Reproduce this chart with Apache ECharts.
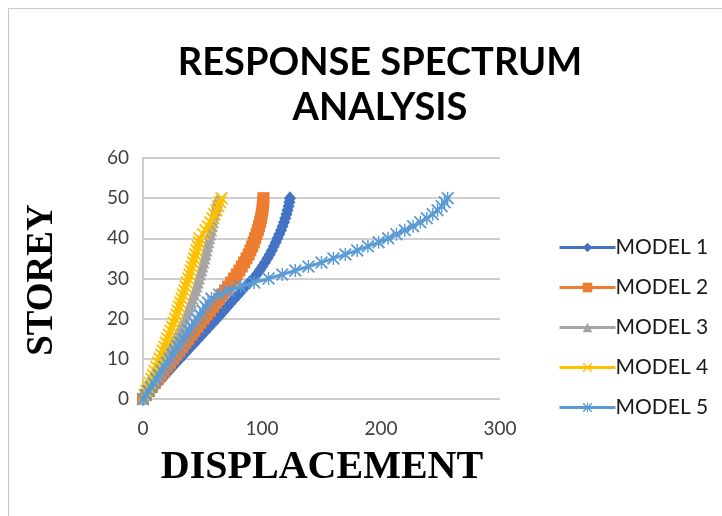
<!DOCTYPE html>
<html>
<head>
<meta charset="utf-8">
<script src="https://cdn.jsdelivr.net/npm/echarts@6/dist/echarts.min.js"></script>
<style>
html,body{margin:0;padding:0;background:#fff;}
#chart{width:722px;height:516px;}
</style>
</head>
<body>
<div id="chart"></div>
<script>
// ---- data ----
var storeys = [0,1,2,3,4,5,6,7,8,9,10,11,12,13,14,15,16,17,18,19,20,21,22,23,24,25,26,27,28,29,30,31,32,33,34,35,36,37,38,39,40,41,42,43,44,45,46,47,48,49,50];
var model1 = [0,3.1,6.2,9.3,12.4,15.5,18.6,21.7,24.8,27.9,31,34.1,37.2,40.3,43.4,46.5,49.6,52.7,55.8,58.9,62,65,68,71,74,77,80,83,86,89.5,93,95.5,98,100.3,102.5,104.5,106.5,108.3,110,111.6,113,114.5,116,117.3,118.5,119.6,120.6,121.5,122.3,123,123.5];
var model2 = [0,2.5,5,7.5,10,12.7,15.3,17.8,20.3,22.8,25.5,28,30.5,33,35.5,38,40.6,43.2,45.8,48.4,51,53.6,56.2,58.8,61.4,64,66.5,69,71.5,74,76.5,78.8,81,83,85,87,88.8,90.3,91.7,93,94.2,95.4,96.5,97.5,98.4,99.2,99.8,100.3,100.7,101,101.2];
var model3 = [0,1.8,3.6,5.4,7.2,9,10.8,12.6,14.4,16.2,18,19.7,21.4,23.1,24.8,26.5,28.2,29.9,31.6,33.3,35,36.4,37.8,39.1,40.4,41.6,42.8,44,45,46,47,48,49,49.9,50.8,51.7,52.5,53.3,54.1,54.9,55.7,56.5,57.3,58,58.7,59.4,60.1,60.8,61.5,62.2,63];
var model4 = [0,1.4,2.8,4.2,5.6,7,8.4,9.8,11.2,12.6,14,15.3,16.6,17.9,19.2,20.5,21.8,23.1,24.4,25.7,27,28.1,29.2,30.3,31.4,32.5,33.6,34.7,35.8,36.9,38,39,40,41,42,43,44,45,46,47,47.5,50.5,52.5,54.5,56.5,58.3,60,61.7,63.3,64.8,66];
var model5 = [0,2.2,4.4,6.6,8.8,11,13.3,15.6,17.9,20.2,22.5,24.8,27.1,29.4,31.7,34,36.3,38.6,40.9,43.2,45.5,47.8,50.1,52.4,54.7,57.5,64,72,82,93.5,105.5,117,128,139,150,160,170,180,189,198,206,213,220,227,233,238.5,243.5,247.5,251,253.5,256];
var seriesNames = ['MODEL 1','MODEL 2','MODEL 3','MODEL 4','MODEL 5'];
var xTicks = [0,100,200,300];
var yTicks = [0,10,20,30,40,50,60];

var XPATH = 'path://M0,1 L1,0 L5,4 L9,0 L10,1 L6,5 L10,9 L9,10 L5,6 L1,10 L0,9 L4,5 Z';
var STARPATH = 'path://M0,1 L1,0 L5,4 L9,0 L10,1 L6,5 L10,9 L9,10 L5,6 L1,10 L0,9 L4,5 Z M4.45,0 L5.55,0 L5.55,10 L4.45,10 Z';

function pairs(vals){ return vals.map(function(v,i){ return [v, storeys[i]]; }); }

var colors = ['#4472C4','#ED7D31','#A5A5A5','#FFC000','#5B9BD5'];
var symbols = ['diamond','rect','triangle',XPATH,STARPATH];
var sizes = [[12,14],12,12,13,13];
var allData = [model1, model2, model3, model4, model5];

var series = allData.map(function(d, k){
  return {
    name: seriesNames[k],
    type: 'line',
    data: pairs(d),
    symbol: symbols[k],
    symbolSize: sizes[k],
    showAllSymbol: true,
    smooth: 0.2,
    lineStyle: {color: colors[k], width: 3},
    itemStyle: {color: colors[k]},
    emphasis: {disabled: true},
    z: 2 + k
  };
});

var chart = echarts.init(document.getElementById('chart'), null, {renderer:'canvas'});
chart.setOption({
  animation: false,
  backgroundColor: '#fff',
  grid: {left: 143, right: 222, top: 158, bottom: 117},
  xAxis: {
    type: 'value', min: 0, max: 300, interval: 100,
    axisLine: {show: false},
    axisTick: {show: false},
    splitLine: {show: false},
    axisLabel: {fontSize: 19, color: '#404040', fontFamily: 'Lato', margin: 20}
  },
  yAxis: {
    type: 'value', min: 0, max: 60, interval: 10,
    axisLine: {show: true, lineStyle: {color: '#BFBFBF', width: 1.5}},
    axisTick: {show: false},
    splitLine: {show: true, lineStyle: {color: '#BFBFBF', width: 1.5}},
    axisLabel: {fontSize: 19, color: '#404040', fontFamily: 'Lato', margin: 14}
  },
  legend: {
    orient: 'vertical',
    left: 553, top: 232,
    itemWidth: 56, itemHeight: 12,
    itemGap: 19,
    lineStyle: {width: 3},
    textStyle: {fontSize: 21, color: '#1a1a1a', fontFamily: 'Lato', padding: [0,0,0,-5]},
    data: seriesNames
  },
  graphic: [
    {type:'rect', shape:{x:8.5, y:8.5, width:800, height:600}, style:{fill:'none', stroke:'#C8C8C8', lineWidth:1}, z:-1},
    {type:'text', x:380, y:40, style:{text:'RESPONSE SPECTRUM\nANALYSIS', textAlign:'center', fontSize:38, fontWeight:'bold', fontFamily:'Lato', lineHeight:45, fill:'#000'}},
    {type:'text', x:42, y:280, rotation: Math.PI/2, style:{text:'STOREY', textAlign:'center', textVerticalAlign:'middle', fontSize:37, fontWeight:'bold', fontFamily:'Liberation Serif', fill:'#000'}},
    {type:'text', x:322, y:468, style:{text:'DISPLACEMENT', textAlign:'center', textVerticalAlign:'middle', fontSize:40, fontWeight:'bold', fontFamily:'Liberation Serif', fill:'#000'}}
  ],
  series: series
});
</script>
</body>
</html>
